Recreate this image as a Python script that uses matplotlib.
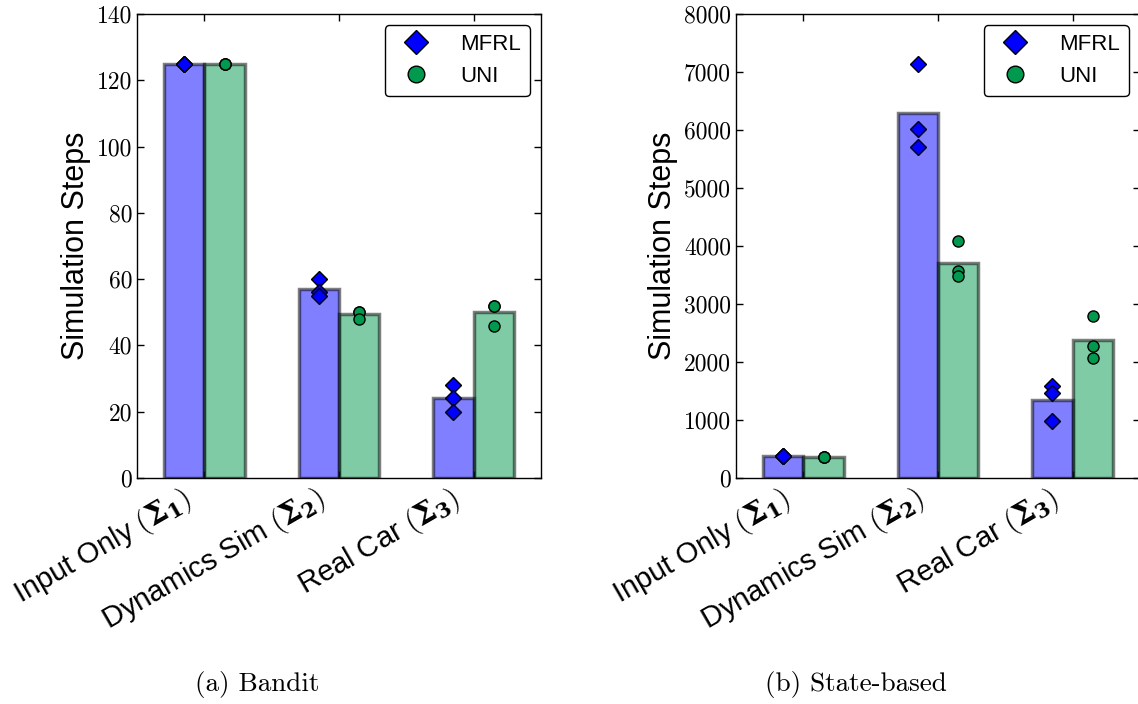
import matplotlib
matplotlib.use('Agg')
import matplotlib.pyplot as plt
import matplotlib.transforms as mtransforms
import numpy as np

plt.rcParams['mathtext.fontset'] = 'custom'
plt.rcParams['mathtext.rm'] = 'cmr10'
plt.rcParams['mathtext.bf'] = 'DejaVu Serif:bold'
plt.rcParams['font.family'] = ['Liberation Sans', 'DejaVu Sans']

# groups along the x axis
categories = ['Input Only', 'Dynamics Sim', 'Real Car']
sigmas = ['1', '2', '3']

# individual runs (three per group)
bandit_mfrl = [[125, 125, 125], [60, 56, 55], [28, 24, 20]]
bandit_uni = [[125, 125, 125], [50, 50, 48], [52, 52, 46]]
state_mfrl = [[375, 375, 375], [7130, 6020, 5710], [1590, 1460, 980]]
state_uni = [[355, 355, 355], [4080, 3570, 3490], [2800, 2280, 2070]]

bandit_ticks = [0, 20, 40, 60, 80, 100, 120, 140]
state_ticks = [0, 1000, 2000, 3000, 4000, 5000, 6000, 7000, 8000]

blue = '#0000ff'
green = '#00994d'
width = 0.3


def panel(fig, ax, mfrl, uni, yticks):
    x = np.arange(len(categories))
    for runs, color, marker, off, name in [(mfrl, blue, 'D', -width, 'MFRL'),
                                           (uni, green, 'o', 0, 'UNI')]:
        means = [np.mean(r) for r in runs]
        ax.bar(x + off, means, width, align='edge', color=color, alpha=0.5,
               edgecolor='black', linewidth=2.5, zorder=2)
        for i, r in enumerate(runs):
            ax.plot([x[i] + off + width / 2] * len(r), r, linestyle='none',
                    marker=marker, ms=8, color=color, mec='black', mew=1,
                    zorder=3, label=name if i == 0 else None)
    ax.set_xlim(-0.5, 2.5)
    ax.set_ylim(yticks[0], yticks[-1])
    ax.tick_params(direction='in', top=True, right=True, length=5, width=1)
    ax.set_yticks(yticks)
    ax.set_yticklabels([str(t) for t in yticks], fontfamily='cmr10', fontsize=17)
    ax.set_xticks(x)
    ax.set_xticklabels([c + r' $(\mathbf{\Sigma_%s})$' % s for c, s in zip(categories, sigmas)],
                       rotation=30, ha='right', fontsize=21)
    # nudge the rotated labels a little to the left
    shift = mtransforms.ScaledTranslation(-0.08, 0, fig.dpi_scale_trans)
    for lab in ax.get_xticklabels():
        lab.set_transform(lab.get_transform() + shift)
    for sp in ax.spines.values():
        sp.set_linewidth(1)
    ax.set_ylabel('Simulation Steps', fontsize=22)
    leg = ax.legend(loc='upper right', numpoints=1, markerscale=1.5, fontsize=16,
                    fancybox=True, framealpha=1, edgecolor='black',
                    handletextpad=1.0)
    leg.get_frame().set_linewidth(1)


fig = plt.figure(figsize=(11.38, 7.04), dpi=100)
ax1 = fig.add_axes([137 / 1138, 1 - 478 / 704, 404 / 1138, 464 / 704])
ax2 = fig.add_axes([736 / 1138, 1 - 478 / 704, 404 / 1138, 464 / 704])
panel(fig, ax1, bandit_mfrl, bandit_uni, bandit_ticks)
panel(fig, ax2, state_mfrl, state_uni, state_ticks)

fig.text(257 / 1138, 1 - 685 / 704, '(a) Bandit', fontfamily='cmr10', fontsize=19.5,
         ha='center', va='center')
fig.text(856 / 1138, 1 - 685 / 704, '(b) State-based', fontfamily='cmr10', fontsize=19.5,
         ha='center', va='center')

fig.savefig('out.png', dpi=100)
